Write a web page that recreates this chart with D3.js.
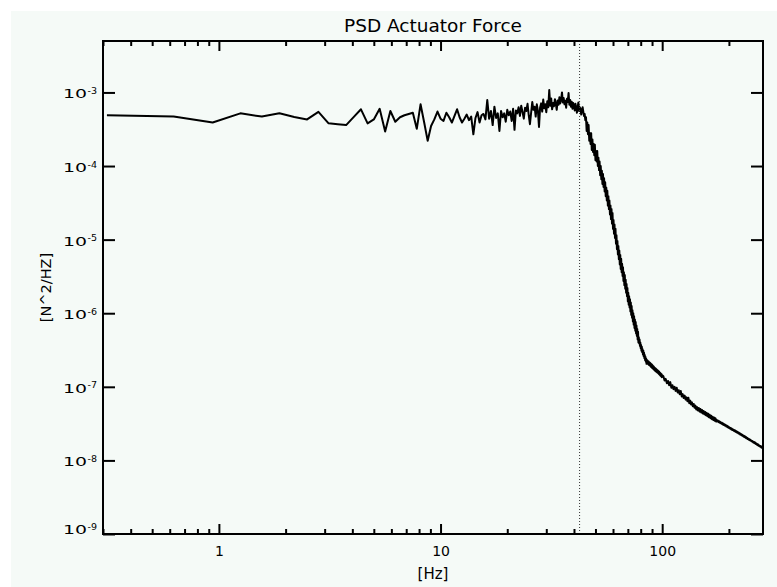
<!DOCTYPE html>
<html>
<head>
<meta charset="utf-8">
<script src="https://cdn.jsdelivr.net/npm/d3@7"></script>
<style>
  html, body { margin: 0; padding: 0; background: #ffffff; }
  svg { display: block; }
  text { font-family: "DejaVu Sans", sans-serif; fill: #000; }
</style>
</head>
<body>
<svg id="chart" width="777" height="587"></svg>
<script>
// Power spectral density of the actuator force, 0.3125 Hz frequency bins
const binHz = 0.3125;

// bins 1-32 (0.3125-10 Hz), in units of 1e-4 N^2/Hz
const psdLow = [4.9, 4.7, 3.9, 5.2, 4.7, 5.2, 4.65, 4.3, 5.45, 3.8, 3.7, 3.6, 4.65, 5.9, 3.8, 4.3,
  6.0, 2.95, 5.6, 4.0, 4.6, 4.9, 5.1, 5.3, 3.2, 6.9, 3.9, 2.2, 3.5, 4.3, 5.5, 4.4];

// bins 33-144 (10.3125-45 Hz), in units of 1e-4 N^2/Hz
const psdMid = [4.1, 5.3, 4.6, 3.9, 4.8, 5.9, 4.6, 3.9, 4.4, 5.0, 4.2, 4.7, 2.7,
  4.5, 5.4, 3.9, 4.9, 5.1, 4.3, 7.9, 4.4, 5.6, 3.6, 6.4, 4.5, 5.2, 3.0, 5.6, 4.6, 5.2, 4.0, 5.8, 4.9, 5.5, 4.1, 6.0, 3.1, 5.7,
  5.2, 6.3, 4.8, 6.6, 5.4, 4.4, 6.2, 5.6, 7.0, 4.9, 3.7, 5.3, 7.4, 5.8, 6.4, 4.7, 6.9, 5.6, 3.4, 6.2,
  7.1, 5.5, 8.0, 6.1, 6.9, 5.4, 7.6, 6.3, 10.8, 6.6, 8.3, 5.9, 7.2, 6.5, 8.1, 7.0, 5.8, 7.8, 6.8, 8.6,
  7.1, 8.0, 10.0, 7.3, 8.4, 6.9, 7.7, 6.2, 8.2, 7.4, 9.8, 6.8, 7.9, 6.4, 7.5, 6.0, 7.2, 6.6, 5.7, 7.0,
  6.1, 5.3, 6.4, 7.3, 5.6, 6.3, 5.9, 5.0, 5.8, 6.3, 5.5, 4.8, 5.1, 4.2];

// bins 145-320 (45.3125-100 Hz), N^2/Hz
const psdRolloff = [
  4.6e-4, 3.0e-4, 3.9e-4, 2.7e-4, 3.6e-4, 2.2e-4, 2.8e-4, 2.0e-4, 2.8e-4, 1.65e-4,
  2.3e-4, 1.55e-4, 2.0e-4, 1.4e-4, 1.95e-4, 1.2e-4, 1.6e-4, 1.15e-4, 1.6e-4, 1.0e-4,
  1.3e-4, 8.8e-5, 1.15e-4, 7.5e-5, 1.0e-4, 6.6e-5, 8.6e-5, 5.7e-5, 7.8e-5, 5.2e-5,
  6.8e-5, 4.5e-5, 6.0e-5, 3.9e-5, 5.1e-5, 3.4e-5, 4.6e-5, 2.9e-5, 3.9e-5, 2.6e-5,
  3.4e-5, 2.2e-5, 2.9e-5, 1.9e-5, 2.6e-5, 1.65e-5, 2.3e-5, 1.4e-5, 1.85e-5, 1.2e-5,
  1.6e-5, 1.05e-5, 1.4e-5, 8.8e-6, 1.15e-5, 7.4e-6, 9.6e-6, 6.3e-6, 8.2e-6, 5.4e-6,
  7.1e-6, 4.6e-6, 6.2e-6, 4.0e-6, 5.5e-6, 3.6e-6, 4.7e-6, 3.2e-6, 4.2e-6, 2.75e-6,
  3.6e-6, 2.4e-6, 3.3e-6, 2.15e-6, 2.85e-6, 1.9e-6, 2.5e-6, 1.7e-6, 2.2e-6, 1.45e-6,
  1.9e-6, 1.3e-6, 1.7e-6, 1.2e-6, 1.55e-6, 1.06e-6, 1.4e-6, 9.5e-7, 1.25e-6, 8.7e-7,
  1.1e-6, 7.7e-7, 1.0e-6, 7.0e-7, 9.1e-7, 6.3e-7, 8.2e-7, 5.8e-7, 7.6e-7, 5.3e-7,
  6.8e-7, 4.9e-7, 6.1e-7, 4.4e-7, 5.6e-7, 4.0e-7,
  4.7e-7, 3.9e-7, 4.4e-7, 3.6e-7, 4.0e-7, 3.35e-7, 3.7e-7, 3.1e-7, 3.5e-7, 2.95e-7,
  3.25e-7, 2.75e-7, 3.1e-7, 2.6e-7, 2.9e-7, 2.45e-7, 2.7e-7, 2.3e-7, 2.55e-7, 2.2e-7,
  2.4e-7, 2.05e-7,
  2.1e-7, 2.3e-7, 2.07e-7, 2.25e-7, 2.03e-7, 2.2e-7, 1.98e-7, 2.16e-7, 1.96e-7, 2.12e-7,
  1.92e-7, 2.07e-7, 1.87e-7, 2.05e-7, 1.84e-7, 1.99e-7, 1.8e-7, 1.95e-7, 1.77e-7, 1.91e-7,
  1.73e-7, 1.86e-7, 1.7e-7, 1.82e-7, 1.66e-7, 1.79e-7, 1.63e-7, 1.76e-7, 1.61e-7, 1.72e-7,
  1.58e-7, 1.69e-7,
  1.56e-7, 1.67e-7, 1.53e-7, 1.64e-7, 1.5e-7, 1.6e-7, 1.47e-7, 1.57e-7, 1.44e-7, 1.54e-7,
  1.41e-7, 1.51e-7, 1.38e-7, 1.48e-7, 1.35e-7, 1.44e-7];

// above 100 Hz, averaged in 1.25 Hz steps, in units of 1e-8 N^2/Hz
const tailStartHz = 100;
const tailStepHz = 1.25;
const psdTail = [
  13.9, 12.2, 12.8, 11.2, 12.0, 10.5, 11.6, 9.7, 10.5, 9.3,
  10.0, 8.8, 9.7, 8.35, 9.0, 7.9, 8.8, 7.4, 7.95, 7.05,
  7.6, 6.7, 7.2, 6.35, 7.1, 6.0, 6.5, 5.75, 6.15, 5.45,
  5.85, 5.18, 5.55, 4.92, 5.3, 4.75, 5.15, 4.6, 5.0, 4.47,
  4.85, 4.35, 4.7, 4.22, 4.56, 4.1, 4.43, 3.98, 4.3, 3.86,
  4.18, 3.75, 4.05, 3.64, 3.93, 3.54, 3.84, 3.45, 3.74, 3.37,
  3.56, 3.39, 3.47, 3.31, 3.4, 3.23, 3.31, 3.16, 3.24, 3.09,
  3.17, 3.02, 3.09, 2.95, 3.02, 2.89, 2.95, 2.82, 2.88, 2.76,
  2.81, 2.7, 2.75, 2.64, 2.7, 2.59, 2.64, 2.54, 2.59, 2.49,
  2.54, 2.44, 2.49, 2.39, 2.44, 2.35, 2.39, 2.3, 2.34, 2.25,
  2.29, 2.21, 2.25, 2.16, 2.2, 2.12, 2.16, 2.08, 2.12, 2.04,
  2.08, 2.0, 2.03, 1.96, 1.99, 1.93, 1.95, 1.89, 1.92, 1.86,
  1.88, 1.83, 1.85, 1.8, 1.82, 1.76, 1.79, 1.73, 1.76, 1.7,
  1.73, 1.67, 1.7, 1.64, 1.67, 1.61, 1.64, 1.58, 1.61, 1.56,
  1.58, 1.53, 1.56, 1.5, 1.53, 1.48, 1.51, 1.47];

// dotted marker frequency (Hz)
const markerHz = 42.4;

const xDomain = [0.3, 285];
const yDomain = [1e-9, 5e-3];
const xMajorTicks = [1, 10, 100];
const yTickExponents = [-9, -8, -7, -6, -5, -4, -3];

const titleText = "PSD Actuator Force";
const xTitleText = "[Hz]";
const yTitleText = "[N^2/HZ]";

// ---- assemble the spectrum ----
const spectrum = []
  .concat(psdLow.concat(psdMid).map((v, i) => ({ f: (i + 1) * binHz, p: v * 1e-4 })))
  .concat(psdRolloff.map((v, i) => ({ f: (145 + i) * binHz, p: v })))
  .concat(psdTail.map((v, i) => ({ f: tailStartHz + (i + 1) * tailStepHz, p: v * 1e-8 })));

// ---- layout ----
const W = 777, H = 587;
const plot = { left: 103, top: 41, right: 763, bottom: 534 };

const svg = d3.select("#chart");

svg.append("rect")
  .attr("x", 11).attr("y", 11)
  .attr("width", W - 11).attr("height", H - 11)
  .attr("fill", "#f5faf7");

const x = d3.scaleLog().domain(xDomain).range([plot.left, plot.right]);
const y = d3.scaleLog().domain(yDomain).range([plot.bottom, plot.top]);

// minor x ticks: 2..9 within each decade
const xMinorTicks = [];
[0.1, 1, 10, 100].forEach(d => {
  for (let m = 2; m <= 9; m++) {
    const v = m * d;
    if (v > xDomain[0] && v < xDomain[1]) xMinorTicks.push(v);
  }
});
const yMajorTicks = yTickExponents.map(e => Math.pow(10, e));

function styleAxis(g) {
  g.select(".domain").remove();
  g.selectAll(".tick line").attr("stroke", "#000").attr("stroke-width", 2);
}

// bottom axis
svg.append("g").attr("transform", `translate(0,${plot.bottom})`)
  .call(d3.axisBottom(x).tickValues(xMajorTicks).tickSize(-10).tickPadding(12)
    .tickFormat(d3.format("d")))
  .call(styleAxis)
  .call(g => g.selectAll("text").attr("font-size", 14).attr("font-family", "DejaVu Sans"));
svg.append("g").attr("transform", `translate(0,${plot.bottom})`)
  .call(d3.axisBottom(x).tickValues(xMinorTicks).tickSize(-5).tickFormat(""))
  .call(styleAxis);

// top axis
svg.append("g").attr("transform", `translate(0,${plot.top})`)
  .call(d3.axisTop(x).tickValues(xMajorTicks).tickSize(-10).tickFormat(""))
  .call(styleAxis);
svg.append("g").attr("transform", `translate(0,${plot.top})`)
  .call(d3.axisTop(x).tickValues(xMinorTicks).tickSize(-5).tickFormat(""))
  .call(styleAxis);

// left and right axes
svg.append("g").attr("transform", `translate(${plot.left},0)`)
  .call(d3.axisLeft(y).tickValues(yMajorTicks).tickSize(-12).tickFormat(""))
  .call(styleAxis);
svg.append("g").attr("transform", `translate(${plot.right},0)`)
  .call(d3.axisRight(y).tickValues(yMajorTicks).tickSize(-12).tickFormat(""))
  .call(styleAxis);

// y tick labels: 10 with superscript exponent
const yLabels = svg.append("g");
yTickExponents.forEach(e => {
  const ty = y(Math.pow(10, e));
  const base = Math.min(ty + 6, plot.bottom);
  yLabels.append("text")
    .attr("x", plot.left - 40).attr("y", base)
    .attr("font-size", 13)
    .attr("textLength", 24).attr("lengthAdjust", "spacingAndGlyphs")
    .text("10");
  yLabels.append("text")
    .attr("x", plot.left - 15.5).attr("y", base - 4.5)
    .attr("font-size", 9.5)
    .text(String(e));
});

// data curve
svg.append("clipPath").attr("id", "plotClip")
  .append("rect")
  .attr("x", plot.left).attr("y", plot.top)
  .attr("width", plot.right - plot.left).attr("height", plot.bottom - plot.top);

svg.append("path")
  .datum(spectrum)
  .attr("clip-path", "url(#plotClip)")
  .attr("fill", "none")
  .attr("stroke", "#000")
  .attr("stroke-width", 2)
  .attr("stroke-linejoin", "round")
  .attr("d", d3.line().x(d => x(d.f)).y(d => y(d.p)));

// dotted marker line
svg.append("line")
  .attr("x1", x(markerHz)).attr("x2", x(markerHz))
  .attr("y1", plot.top).attr("y2", plot.bottom)
  .attr("stroke", "#333").attr("stroke-width", 1)
  .attr("stroke-dasharray", "1,2");

// frame
svg.append("rect")
  .attr("x", plot.left).attr("y", plot.top)
  .attr("width", plot.right - plot.left).attr("height", plot.bottom - plot.top)
  .attr("fill", "none").attr("stroke", "#000").attr("stroke-width", 2);

// titles
svg.append("text")
  .attr("x", (plot.left + plot.right) / 2).attr("y", 32)
  .attr("text-anchor", "middle").attr("font-size", 18.5)
  .text(titleText);

svg.append("text")
  .attr("x", (plot.left + plot.right) / 2).attr("y", 579)
  .attr("text-anchor", "middle").attr("font-size", 15)
  .text(xTitleText);

svg.append("text")
  .attr("transform", `translate(51,${(plot.top + plot.bottom) / 2}) rotate(-90)`)
  .attr("text-anchor", "middle").attr("font-size", 14.5)
  .text(yTitleText);
</script>
</body>
</html>
